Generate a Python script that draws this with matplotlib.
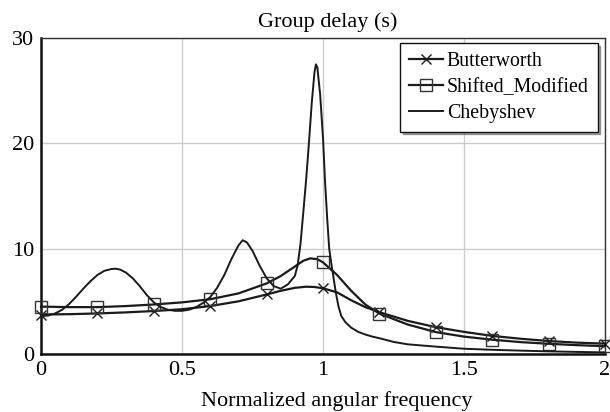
import matplotlib
matplotlib.use("Agg")
import matplotlib.pyplot as plt
import numpy as np

plt.rcParams['font.family'] = ['Liberation Serif', 'DejaVu Serif']

# Butterworth
butter_x = [0.0, 0.1, 0.2, 0.3, 0.4, 0.5, 0.6, 0.7, 0.8, 0.85, 0.9, 0.94, 0.97, 1.0,
            1.05, 1.1, 1.15, 1.2, 1.3, 1.4, 1.5, 1.6, 1.7, 1.8, 1.9, 2.0]
butter_y = [3.75, 3.78, 3.85, 3.95, 4.08, 4.25, 4.55, 5.0, 5.65, 6.0, 6.28, 6.39, 6.36, 6.24,
            5.85, 5.1, 4.45, 3.97, 3.15, 2.55, 2.1, 1.72, 1.45, 1.23, 1.08, 0.98]

# Shifted_Modified
shift_x = [0.0, 0.1, 0.2, 0.3, 0.4, 0.5, 0.6, 0.7, 0.8, 0.85, 0.9, 0.93, 0.955, 0.98, 1.0,
           1.05, 1.1, 1.15, 1.2, 1.3, 1.4, 1.5, 1.6, 1.7, 1.8, 1.9, 2.0]
shift_y = [4.5, 4.45, 4.45, 4.55, 4.7, 4.9, 5.2, 5.75, 6.7, 7.4, 8.3, 8.85, 9.08, 9.0, 8.7,
           7.5, 6.0, 4.7, 3.84, 2.8, 2.08, 1.65, 1.36, 1.13, 0.97, 0.84, 0.74]

# Chebyshev
cheb_x = [0.0, 0.025, 0.05, 0.075, 0.1, 0.125, 0.15, 0.175, 0.2, 0.225, 0.25, 0.265, 0.28,
          0.3, 0.325, 0.35, 0.375, 0.4, 0.425, 0.45, 0.475, 0.5, 0.525, 0.55, 0.575, 0.6,
          0.625, 0.65, 0.675, 0.7, 0.715, 0.73, 0.75, 0.775, 0.8, 0.825, 0.85, 0.875, 0.9,
          0.91, 0.92, 0.93, 0.94, 0.95, 0.96, 0.97, 0.975, 0.98, 0.99, 1.0, 1.007, 1.015,
          1.022, 1.03, 1.037, 1.045, 1.055, 1.065, 1.08, 1.1, 1.125, 1.15, 1.175, 1.2, 1.25,
          1.3, 1.4, 1.5, 1.6, 1.7, 1.8, 1.9, 2.0]
cheb_y = [3.6, 3.65, 3.85, 4.2, 4.75, 5.45, 6.2, 6.9, 7.5, 7.9, 8.07, 8.1, 8.02,
          7.75, 7.2, 6.45, 5.6, 4.9, 4.45, 4.2, 4.1, 4.1, 4.2, 4.45, 4.85, 5.4,
          6.3, 7.5, 9.0, 10.3, 10.8, 10.6, 9.8, 8.4, 7.2, 6.45, 6.2, 6.6, 7.4,
          8.4, 10.4, 13.4, 16.5, 20.0, 23.8, 26.8, 27.5, 27.2, 24.6, 20.5, 16.5, 12.8,
          10.0, 8.5, 7.3, 5.9, 4.5, 3.6, 3.0, 2.5, 2.1, 1.85, 1.65, 1.5, 1.15,
          0.92, 0.7, 0.5, 0.4, 0.32, 0.25, 0.2, 0.15]

x_ticks = [0, 0.5, 1, 1.5, 2]
x_tick_labels = ["0", "0.5", "1", "1.5", "2"]
y_ticks = [0, 10, 20, 30]


def marker_idx(xs):
    return [i for i, v in enumerate(xs) if abs(v * 5 - round(v * 5)) < 1e-9]


fig = plt.figure(figsize=(6.1, 4.12), dpi=100)
ax = fig.add_axes([41 / 610, 1 - 354 / 412, 564 / 610, 316 / 412])

lc = '#1a1a1a'
ax.plot(butter_x, butter_y, color=lc, lw=1.6, marker='x', ms=7, mew=1.0,
        markevery=marker_idx(butter_x), label='Butterworth', clip_on=False, zorder=3)
ax.plot(shift_x, shift_y, color=lc, lw=1.6, marker='s', ms=8, mew=1.0, mfc='none',
        mec='#333333', markevery=marker_idx(shift_x), label='Shifted_Modified',
        clip_on=False, zorder=3)
ax.plot(cheb_x, cheb_y, color=lc, lw=1.4, label='Chebyshev', zorder=3)

ax.set_xlim(0, 2)
ax.set_ylim(0, 30)
ax.set_xticks(x_ticks)
ax.set_xticklabels(x_tick_labels)
ax.set_yticks(y_ticks)
ax.tick_params(length=0, labelsize=16, pad=5)
ax.grid(True, color='#cccccc', lw=1.0)
ax.set_axisbelow(True)

for s in ['left', 'bottom']:
    ax.spines[s].set_linewidth(1.8)
    ax.spines[s].set_color('#111111')
for s in ['top', 'right']:
    ax.spines[s].set_linewidth(1.0)
    ax.spines[s].set_color('#333333')

fig.text(327.5 / 610, 1 - 27 / 412, 'Group delay (s)', fontsize=16,
         ha='center', va='baseline')
fig.text(336.5 / 610, 1 - 406 / 412, 'Normalized angular frequency', fontsize=16,
         ha='center', va='baseline')

leg = ax.legend(loc='upper right', bbox_to_anchor=(0.987, 0.985), fontsize=14.3,
                frameon=True, fancybox=False, shadow=True, edgecolor='#111111',
                handlelength=1.7, handletextpad=0.2, labelspacing=0.35,
                borderpad=0.45, numpoints=1, borderaxespad=0)
leg.get_frame().set_linewidth(1.0)

fig.savefig('out.png', dpi=100)
